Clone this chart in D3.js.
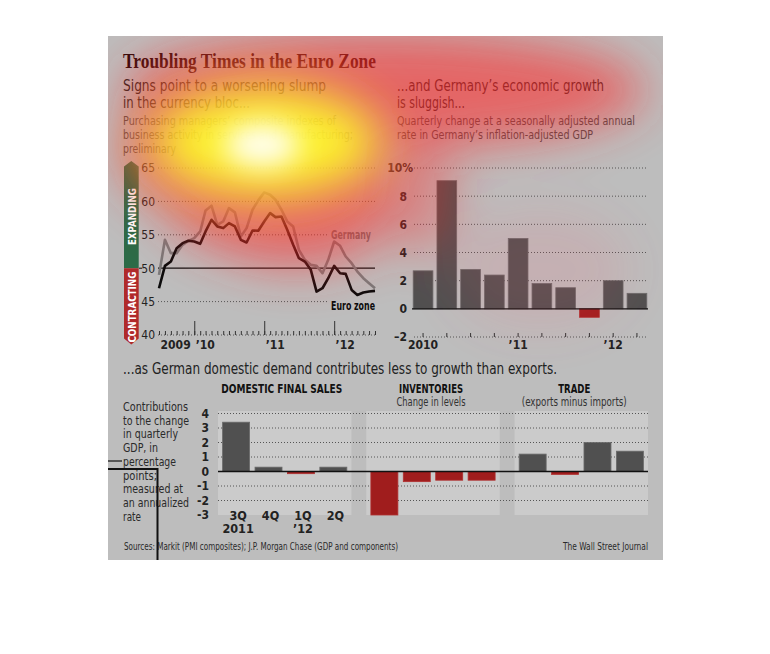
<!DOCTYPE html>
<html><head><meta charset="utf-8">
<script src="https://cdn.jsdelivr.net/npm/d3@7"></script>
<style>body{margin:0;background:#fff}svg{display:block}</style>
</head><body>
<svg id="c" width="770" height="654"></svg>
<script>
// ---------- DATA ----------
const pmiStart = new Date(2009, 6, 1);   // July 2009
const pmiEnd = new Date(2012, 7, 1);     // August 2012
const euroZone = [47.0,50.35,51.0,53.0,53.75,54.1,
  54.0,53.65,55.5,57.25,56.25,56.0,56.75,56.25,54.25,53.85,55.65,55.6,
  57.0,58.25,57.65,57.75,55.75,53.5,51.5,51.0,49.75,46.5,47.0,48.5,
  50.35,49.25,49.15,46.75,46.0,46.35,46.5,46.6];
const germany = [49.0,54.25,52.25,52.25,53.5,54.1,
  54.5,55.5,58.65,59.35,56.5,57.0,59.0,58.35,54.75,56.0,58.75,60.15,
  61.35,61.0,60.25,58.75,57.0,56.25,52.75,51.25,50.5,50.35,49.25,51.25,
  54.0,53.35,51.75,50.75,49.5,48.5,47.75,47.0];
const pmiTicks = [40,45,50,55,60,65];
const pmiYearLabels = ["2009","\u201910","\u201911","\u201912"];

const gdpQuarters = ["1Q10","2Q10","3Q10","4Q10","1Q11","2Q11","3Q11","4Q11","1Q12","2Q12"];
const gdpGrowth = [2.7,9.1,2.8,2.4,5.0,1.8,1.5,-0.6,2.0,1.1];
const gdpTicks = [-2,0,2,4,6,8,10];
const gdpYearLabels = ["2010","\u201911","\u201912"];

const componentGroups = ["DOMESTIC FINAL SALES","INVENTORIES","TRADE"];
const componentSubtitles = ["","Change in levels","(exports minus imports)"];
const componentQuarters = ["3Q","4Q","1Q","2Q"];
const componentYears = ["2011","","\u201912",""];
const domesticFinalSales = [3.4,0.3,-0.15,0.3];
const inventories = [-3.0,-0.7,-0.6,-0.6];
const trade = [1.2,-0.2,2.0,1.4];
const componentTicks = [-3,-2,-1,0,1,2,3,4];

// ---------- SETUP ----------
const SANS = "'Liberation Sans Narrow','DejaVu Sans Condensed','Liberation Sans',Arial,sans-serif";
const SERIF = "'Liberation Serif','DejaVu Serif',serif";
const svg = d3.select("#c");
const BG = "#bdbdbd", PANEL = "#cbcbcb", DARK = "#222", BARC = "#505050", REDC = "#a01d1d";

function txt(g, x, y, s, o) {
  const t = g.append("text").attr("x", x).attr("y", y).text(s)
    .attr("font-family", o.ff || SANS).attr("font-size", o.size)
    .attr("font-weight", o.bold ? "bold" : (o.weight || "normal"))
    .attr("fill", o.fill || DARK).attr("text-anchor", o.anchor || "start");
  if (o.w) t.attr("textLength", o.w).attr("lengthAdjust", "spacingAndGlyphs");
  return t;
}

svg.append("rect").attr("width", 770).attr("height", 654).attr("fill", "#fff");
svg.append("rect").attr("x", 108).attr("y", 36).attr("width", 555).attr("height", 524).attr("fill", BG);

const root = svg.append("g");

// ---------- HEADINGS ----------
txt(root, 123, 68, "Troubling Times in the Euro Zone", {ff: SERIF, size: 20, bold: true, w: 253, fill: "#2a0a0a"});
txt(root, 123, 91, "Signs point to a worsening slump", {size: 15.5, w: 203});
txt(root, 123, 107.7, "in the currency bloc...", {size: 15.5, w: 127});
txt(root, 123, 125.3, "Purchasing managers\u2019 composite indexes of", {size: 12.5, w: 213, fill: "#4a4a4a"});
txt(root, 123, 139.3, "business activity in services and manufacturing;", {size: 12.5, w: 230, fill: "#4a4a4a"});
txt(root, 123, 153, "preliminary", {size: 12.5, w: 53, fill: "#4a4a4a"});

txt(root, 397, 91, "...and Germany\u2019s economic growth", {size: 15.5, w: 207});
txt(root, 397, 107.7, "is sluggish...", {size: 15.5, w: 68});
txt(root, 397, 125.3, "Quarterly change at a seasonally adjusted annual", {size: 12.5, w: 238, fill: "#4a4a4a"});
txt(root, 397, 139.3, "rate in Germany\u2019s inflation-adjusted GDP", {size: 12.5, w: 196, fill: "#4a4a4a"});

// ---------- PMI LINE CHART ----------
const pmiMonths = d3.timeMonth.range(pmiStart, d3.timeMonth.offset(pmiEnd, 1));
const xP = d3.scaleTime().domain([pmiStart, pmiEnd]).range([159, 375]);
const yP = d3.scaleLinear().domain([40, 65]).range([335, 168]);
const gP = root.append("g");

// expanding / contracting arrow
gP.append("path").attr("d", `M124,${yP(50)}V166.5L131.3,161L138.7,166.5V${yP(50)}Z`).attr("fill", "#2c6b47");
gP.append("path").attr("d", `M124,${yP(50)}V338.5L131.3,344.5L138.7,338.5V${yP(50)}Z`).attr("fill", "#b02a2a");
gP.append("text").attr("transform", `translate(131.6,${(166 + yP(50)) / 2 - 0.5}) rotate(-90)`)
  .attr("text-anchor", "middle").attr("dominant-baseline", "central").attr("font-family", SANS)
  .attr("font-weight", "bold").attr("font-size", 10.5).attr("fill", "#fff")
  .attr("textLength", 57).attr("lengthAdjust", "spacingAndGlyphs").text("EXPANDING");
gP.append("text").attr("transform", `translate(131.6,${(yP(50) + 345) / 2 + 0.5}) rotate(-90)`)
  .attr("text-anchor", "middle").attr("dominant-baseline", "central").attr("font-family", SANS)
  .attr("font-weight", "bold").attr("font-size", 10.5).attr("fill", "#fff")
  .attr("textLength", 71).attr("lengthAdjust", "spacingAndGlyphs").text("CONTRACTING");

// grid
pmiTicks.filter(v => v !== 50).forEach(v => {
  const x2 = (v === 45 || v === 55) ? 328 : 375;
  gP.append("line").attr("x1", 158).attr("x2", x2).attr("y1", yP(v)).attr("y2", yP(v))
    .attr("stroke", "#555").attr("stroke-width", 1).attr("stroke-dasharray", "1,2");
});
gP.append("line").attr("x1", 139).attr("x2", 142).attr("y1", yP(50)).attr("y2", yP(50)).attr("stroke", "#111");
gP.append("line").attr("x1", 158).attr("x2", 375).attr("y1", yP(50)).attr("y2", yP(50)).attr("stroke", "#111").attr("stroke-width", 1.2);

// y labels
const yAxP = gP.append("g").attr("transform", "translate(156,0)")
  .call(d3.axisLeft(yP).tickValues(pmiTicks).tickSize(0).tickPadding(1).tickFormat(d3.format("d")));
yAxP.select(".domain").remove();
yAxP.selectAll("text").attr("font-family", SANS).attr("font-size", 12).attr("fill", DARK);

// x ticks
const xMinor = gP.append("g").attr("transform", `translate(0,${yP(40)})`)
  .call(d3.axisBottom(xP).ticks(d3.timeMonth.every(1)).tickSize(-4).tickFormat(""));
xMinor.select(".domain").remove();
xMinor.selectAll("line").attr("stroke", "#333");
const yearStarts = [new Date(2010,0,1), new Date(2011,0,1), new Date(2012,0,1)];
const xMajor = gP.append("g").attr("transform", `translate(0,${yP(40)})`)
  .call(d3.axisBottom(xP).tickValues(yearStarts).tickSize(-14).tickFormat(""));
xMajor.select(".domain").remove();
xMajor.selectAll("line").attr("stroke", "#333");
const yearLabelPos = [new Date(2009,9,1), ...yearStarts];
pmiYearLabels.forEach((s, i) => {
  const xx = i === 0 ? xP(yearLabelPos[i]) - 1 : xP(yearLabelPos[i]) + 11;
  txt(gP, xx, 348.5, s, {size: 12, bold: true, anchor: "middle"});
});

// lines
const line = d3.line().x((d, i) => xP(pmiMonths[i])).y(d => yP(d)).curve(d3.curveLinear);
gP.append("path").datum(germany).attr("d", line).attr("fill", "none").attr("stroke", "#7a7a7a").attr("stroke-width", 2.6).attr("stroke-linejoin", "round");
gP.append("path").datum(euroZone).attr("d", line).attr("fill", "none").attr("stroke", "#0c0c0c").attr("stroke-width", 2.6).attr("stroke-linejoin", "round");
txt(gP, 331, 238.5, "Germany", {size: 12.5, bold: true, fill: "#6e6e6e", w: 40});
txt(gP, 331, 309.5, "Euro zone", {size: 12.5, bold: true, fill: "#0c0c0c", w: 44});

// ---------- GDP BAR CHART ----------
const xG = d3.scaleBand().domain(gdpQuarters).range([412, 648]).paddingInner(0.17).paddingOuter(0.05);
const yG = d3.scaleLinear().domain([-2, 10]).range([337, 168]);
const gG = root.append("g");
gdpTicks.filter(v => v !== 0).forEach(v => {
  gG.append("line").attr("x1", 414).attr("x2", 648).attr("y1", yG(v)).attr("y2", yG(v))
    .attr("stroke", "#555").attr("stroke-dasharray", "1,2");
});
const yAxG = gG.append("g").attr("transform", "translate(408,0)")
  .call(d3.axisLeft(yG).tickValues(gdpTicks).tickSize(0).tickPadding(1)
    .tickFormat(d => d === 10 ? "10%" : (d < 0 ? "\u2013" + Math.abs(d) : d)));
yAxG.select(".domain").remove();
yAxG.selectAll("text").attr("font-family", SANS).attr("font-size", 12).attr("font-weight", "bold").attr("fill", DARK)
  .attr("dx", d => d === 10 ? 6 : 0);
gG.selectAll("rect.gdp").data(gdpGrowth).join("rect").attr("class", "gdp")
  .attr("x", (d, i) => xG(gdpQuarters[i])).attr("width", xG.bandwidth())
  .attr("y", d => yG(Math.max(0, d))).attr("height", d => Math.abs(yG(d) - yG(0)))
  .attr("fill", d => d < 0 ? REDC : BARC).attr("stroke", d => d < 0 ? "#b03030" : "#6a6a6a").attr("stroke-width", 0.8);
gG.append("line").attr("x1", 412).attr("x2", 648).attr("y1", yG(0)).attr("y2", yG(0)).attr("stroke", "#111").attr("stroke-width", 1.4);
const xAxG = gG.append("g").attr("transform", `translate(0,${yG(-2)})`)
  .call(d3.axisBottom(xG).tickSize(-4).tickFormat(""));
xAxG.select(".domain").remove();
xAxG.selectAll("line").attr("stroke", "#333");
[["1Q10", 0], ["1Q11", 1], ["1Q12", 2]].forEach(([q, i]) => {
  txt(gG, xG(q) + xG.bandwidth() / 2, 349, gdpYearLabels[i], {size: 12, bold: true, anchor: "middle"});
});

// ---------- COMPONENTS CHART ----------
txt(root, 123, 374, "...as German domestic demand contributes less to growth than exports.", {size: 15.5, w: 434});
const noteLines = [["Contributions",65],["to the change",66],["in quarterly",55],["GDP, in",35],["percentage",53],["points;",34],["measured at",60],["an annualized",66],["rate",18]];
noteLines.forEach(([s, w], i) => txt(root, 123, 411 + i * 13.7, s, {size: 11.5, w: w, fill: "#2a2a2a"}));

const compData = [domesticFinalSales, inventories, trade];
const xC = d3.scaleBand().domain(componentGroups).range([218, 648]).paddingInner(0.1);
const xQ = d3.scaleBand().domain(componentQuarters).range([0, xC.bandwidth()]).paddingInner(0.167).paddingOuter(0.142);
const yC = d3.scaleLinear().domain([-3, 4]).range([515, 413.5]);
const gC = root.append("g");
componentGroups.forEach(g => {
  gC.append("rect").attr("x", xC(g)).attr("y", 411).attr("width", xC.bandwidth()).attr("height", yC(-3) - 411).attr("fill", PANEL);
});
componentTicks.filter(v => v !== 0 && v !== -3).forEach(v => {
  gC.append("line").attr("x1", 218).attr("x2", 648).attr("y1", yC(v)).attr("y2", yC(v))
    .attr("stroke", "#555").attr("stroke-dasharray", "1,2");
});
const yAxC = gC.append("g").attr("transform", "translate(210,0)")
  .call(d3.axisLeft(yC).tickValues(componentTicks).tickSize(0).tickPadding(1)
    .tickFormat(d => d < 0 ? "-" + Math.abs(d) : d));
yAxC.select(".domain").remove();
yAxC.selectAll("text").attr("font-family", SANS).attr("font-size", 12).attr("font-weight", "bold").attr("fill", DARK);

componentGroups.forEach((g, gi) => {
  const gg = gC.append("g").attr("transform", `translate(${xC(g)},0)`);
  gg.selectAll("rect").data(compData[gi]).join("rect")
    .attr("x", (d, i) => xQ(componentQuarters[i])).attr("width", xQ.bandwidth())
    .attr("y", d => yC(Math.max(0, d))).attr("height", d => Math.abs(yC(d) - yC(0)))
    .attr("fill", d => d < 0 ? REDC : BARC).attr("stroke", d => d < 0 ? "#b03030" : "#6a6a6a").attr("stroke-width", 0.8);
  const cx = xC(g) + xC.bandwidth() / 2 - (gi === 2 ? 7 : (gi === 0 ? 3 : 2));
  const hw = [121, 64, 32][gi];
  txt(gC, cx, 392.7, g, {size: 12, bold: true, anchor: "middle", w: hw, fill: "#111"});
  if (componentSubtitles[gi]) txt(gC, cx, 405.7, componentSubtitles[gi], {size: 12, anchor: "middle", w: [0, 69, 105][gi], fill: "#333"});
});
gC.append("line").attr("x1", 218).attr("x2", 648).attr("y1", yC(0)).attr("y2", yC(0)).attr("stroke", "#111").attr("stroke-width", 1.4);
const g0 = componentGroups[0];
componentQuarters.forEach((q, i) => {
  const cx = xC(g0) + xQ(q) + xQ.bandwidth() / 2 + 2;
  txt(gC, cx, 519.5, q, {size: 12.5, bold: true, anchor: "middle"});
  if (componentYears[i]) txt(gC, cx, 533, componentYears[i], {size: 12.5, bold: true, anchor: "middle"});
});

// ---------- FOOTER ----------
txt(root, 124, 549.5, "Sources: Markit (PMI composites); J.P. Morgan Chase (GDP and components)", {size: 11, w: 274, fill: "#2a2a2a"});
txt(root, 648, 549.5, "The Wall Street Journal", {size: 11, w: 85, anchor: "end", fill: "#2a2a2a"});

// annotation strokes
root.append("line").attr("x1", 108).attr("x2", 122).attr("y1", 461).attr("y2", 461).attr("stroke", "#111").attr("stroke-width", 1.2);
root.append("path").attr("d", "M108,469H157.5V560").attr("fill", "none").attr("stroke", "#111").attr("stroke-width", 2);

// ---------- HEAT OVERLAY ----------
const defs = svg.append("defs");
defs.append("clipPath").attr("id", "pc").append("rect").attr("x", 108).attr("y", 36).attr("width", 555).attr("height", 524);
const f = defs.append("filter").attr("id", "bl").attr("x", "-60%").attr("y", "-60%").attr("width", "220%").attr("height", "220%");
f.append("feGaussianBlur").attr("stdDeviation", 24);
const fs = defs.append("filter").attr("id", "bs").attr("x", "-60%").attr("y", "-60%").attr("width", "220%").attr("height", "220%");
fs.append("feGaussianBlur").attr("stdDeviation", 14);
const ov = svg.append("g").attr("clip-path", "url(#pc)");
const red = ov.append("g").attr("filter", "url(#bl)").attr("opacity", 0.6);
red.append("ellipse").attr("cx", 385).attr("cy", 90).attr("rx", 260).attr("ry", 58).attr("fill", "#ff2a2a");
red.append("ellipse").attr("cx", 275).attr("cy", 185).attr("rx", 115).attr("ry", 75).attr("fill", "#ff2a2a");
red.append("ellipse").attr("cx", 300).attr("cy", 220).attr("rx", 90).attr("ry", 50).attr("fill", "#ff2a2a").attr("opacity", 0.7);
red.append("ellipse").attr("cx", 190).attr("cy", 150).attr("rx", 70).attr("ry", 60).attr("fill", "#ff2a2a");
red.append("ellipse").attr("cx", 420).attr("cy", 195).attr("rx", 35).attr("ry", 60).attr("fill", "#ff2a2a").attr("opacity", 0.6);
red.append("ellipse").attr("cx", 540).attr("cy", 270).attr("rx", 90).attr("ry", 60).attr("fill", "#ff4a6a").attr("opacity", 0.2);
ov.append("g").attr("filter", "url(#bl)").append("ellipse").attr("cx", 265).attr("cy", 142).attr("rx", 115).attr("ry", 55).attr("fill", "#ffff28").attr("opacity", 0.92);
ov.append("g").attr("filter", "url(#bs)").append("ellipse").attr("cx", 262).attr("cy", 145).attr("rx", 38).attr("ry", 22).attr("fill", "#ffffff").attr("opacity", 0.95);
</script>
</body></html>
